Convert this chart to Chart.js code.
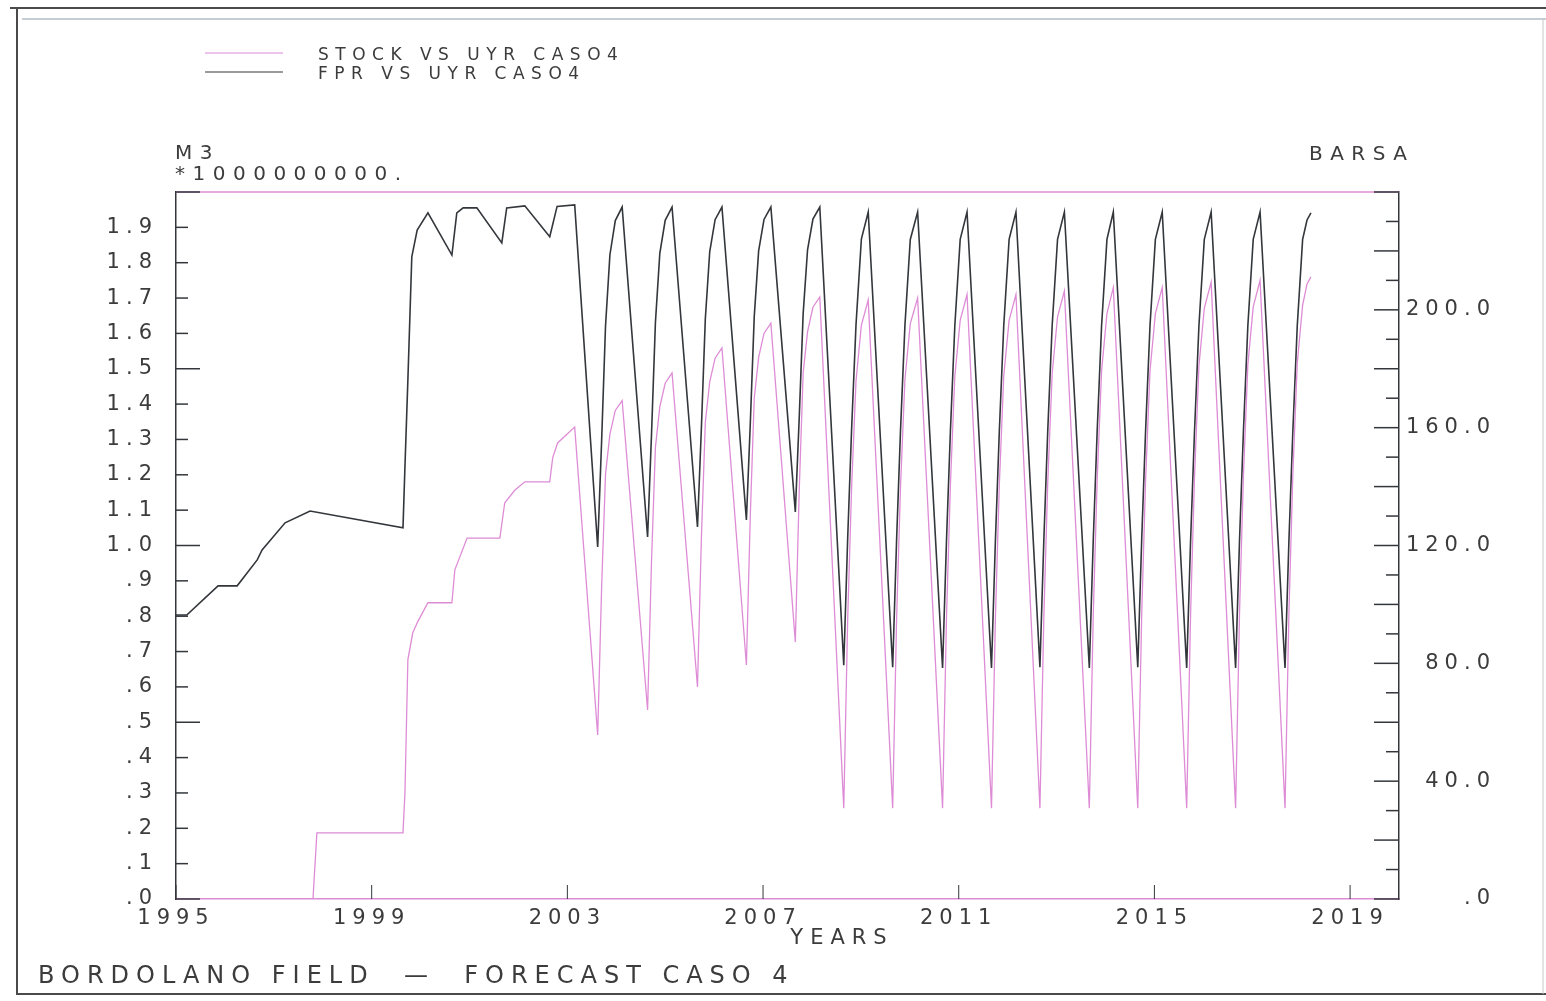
<!DOCTYPE html>
<html>
<head>
<meta charset="utf-8">
<title>Bordolano field - forecast caso 4</title>
<script src="https://cdn.jsdelivr.net/npm/chart.js@4.4.1/dist/chart.umd.min.js"></script>
<style>
  html, body { margin: 0; padding: 0; background: #fff; }
  canvas { display: block; }
</style>
</head>
<body>
<canvas id="forecastChart" width="1546" height="1001"></canvas>
<script>
// STOCK, M3 * 1e9 (left axis)
const stockYears = [
  1995.00, 1997.80, 1997.88, 1999.64, 1999.68, 1999.74, 1999.84, 1999.94, 2000.15, 2000.64,
  2000.70, 2000.95, 2001.62, 2001.72, 2001.93, 2002.13, 2002.64, 2002.70, 2002.80, 2003.15,
  2003.62, 2003.70, 2003.78, 2003.87, 2003.98, 2004.12,
  2004.64, 2004.72, 2004.80, 2004.89, 2005.00, 2005.14,
  2005.66, 2005.74, 2005.82, 2005.91, 2006.02, 2006.16,
  2006.66, 2006.74, 2006.82, 2006.91, 2007.02, 2007.16,
  2007.66, 2007.74, 2007.82, 2007.91, 2008.02, 2008.16,
  2008.65, 2008.73, 2008.81, 2008.90, 2009.01, 2009.15,
  2009.65, 2009.73, 2009.81, 2009.90, 2010.01, 2010.16,
  2010.67, 2010.75, 2010.83, 2010.92, 2011.03, 2011.17,
  2011.67, 2011.75, 2011.83, 2011.92, 2012.03, 2012.17,
  2012.66, 2012.74, 2012.82, 2012.91, 2013.02, 2013.16,
  2013.67, 2013.75, 2013.83, 2013.92, 2014.03, 2014.16,
  2014.66, 2014.74, 2014.82, 2014.91, 2015.02, 2015.16,
  2015.66, 2015.74, 2015.82, 2015.91, 2016.02, 2016.16,
  2016.66, 2016.74, 2016.82, 2016.91, 2017.02, 2017.16,
  2017.67, 2017.75, 2017.83, 2017.92, 2018.03, 2018.12, 2018.20
];
const stockValues = [
  0, 0, 0.187, 0.187, 0.30, 0.677, 0.753, 0.784, 0.838, 0.838,
  0.931, 1.021, 1.021, 1.121, 1.157, 1.18, 1.18, 1.248, 1.29, 1.335,
  0.464, 0.880, 1.202, 1.315, 1.382, 1.410,
  0.535, 0.954, 1.278, 1.393, 1.459, 1.488,
  0.600, 1.022, 1.348, 1.463, 1.530, 1.559,
  0.662, 1.087, 1.416, 1.532, 1.600, 1.629,
  0.727, 1.156, 1.488, 1.605, 1.674, 1.703,
  0.257, 0.789, 1.163, 1.465, 1.623, 1.695,
  0.257, 0.791, 1.166, 1.469, 1.628, 1.700,
  0.257, 0.795, 1.172, 1.478, 1.637, 1.710,
  0.257, 0.795, 1.172, 1.478, 1.637, 1.710,
  0.257, 0.798, 1.179, 1.486, 1.647, 1.720,
  0.257, 0.802, 1.185, 1.494, 1.656, 1.730,
  0.257, 0.802, 1.185, 1.494, 1.656, 1.730,
  0.257, 0.808, 1.194, 1.507, 1.671, 1.745,
  0.257, 0.809, 1.198, 1.511, 1.675, 1.750,
  0.257, 0.810, 1.200, 1.515, 1.680, 1.740, 1.760
];

// FPR, BARSA (right axis)
const fprYears = [
  1995.00, 1995.22, 1995.86, 1996.25, 1996.66, 1996.76, 1997.23, 1997.74, 1999.64, 1999.68,
  1999.74, 1999.82, 1999.93, 2000.15, 2000.64, 2000.74, 2000.87, 2001.15, 2001.66, 2001.76,
  2002.13, 2002.64, 2002.79, 2003.15,
  2003.62, 2003.70, 2003.78, 2003.87, 2003.98, 2004.12,
  2004.64, 2004.72, 2004.80, 2004.89, 2005.00, 2005.14,
  2005.66, 2005.74, 2005.82, 2005.91, 2006.02, 2006.16,
  2006.66, 2006.74, 2006.82, 2006.91, 2007.02, 2007.16,
  2007.66, 2007.74, 2007.82, 2007.91, 2008.02, 2008.16,
  2008.65, 2008.73, 2008.81, 2008.90, 2009.01, 2009.15,
  2009.65, 2009.73, 2009.81, 2009.90, 2010.01, 2010.16,
  2010.67, 2010.75, 2010.83, 2010.92, 2011.03, 2011.17,
  2011.67, 2011.75, 2011.83, 2011.92, 2012.03, 2012.17,
  2012.66, 2012.74, 2012.82, 2012.91, 2013.02, 2013.16,
  2013.67, 2013.75, 2013.83, 2013.92, 2014.03, 2014.16,
  2014.66, 2014.74, 2014.82, 2014.91, 2015.02, 2015.16,
  2015.66, 2015.74, 2015.82, 2015.91, 2016.02, 2016.16,
  2016.66, 2016.74, 2016.82, 2016.91, 2017.02, 2017.16,
  2017.67, 2017.75, 2017.83, 2017.92, 2018.03, 2018.12, 2018.20
];
const fprValues = [
  96.4, 96.4, 106.3, 106.3, 115.1, 118.5, 127.7, 131.7, 126.0, 146.7,
  176.2, 218.0, 227.1, 232.9, 218.6, 232.9, 234.6, 234.6, 222.7, 234.6,
  235.3, 224.8, 235.1, 235.6,
  119.5, 155.3, 194.5, 218.7, 230.3, 234.9,
  122.9, 157.6, 195.7, 219.2, 230.4, 234.9,
  126.3, 160.0, 196.9, 219.7, 230.6, 234.9,
  128.7, 161.6, 197.7, 220.0, 230.7, 234.9,
  131.4, 163.5, 198.7, 220.4, 230.8, 234.9,
  79.4, 122.4, 159.4, 194.8, 224.0, 233.2,
  78.7, 121.9, 159.0, 194.6, 223.9, 233.2,
  78.4, 121.7, 158.8, 194.5, 223.9, 233.2,
  78.4, 121.7, 158.8, 194.5, 223.9, 233.2,
  78.7, 121.9, 159.0, 194.6, 223.9, 233.2,
  78.4, 121.7, 158.8, 194.5, 223.9, 233.2,
  78.7, 121.9, 159.0, 194.6, 223.9, 233.2,
  78.4, 121.7, 158.8, 194.5, 223.9, 233.2,
  78.4, 121.7, 158.8, 194.5, 223.9, 233.2,
  78.4, 121.7, 158.8, 194.5, 223.9, 230.5, 232.9
];

const seriesNames = ['STOCK VS UYR CASO4', 'FPR VS UYR CASO4'];
const xTicks = [1995, 1999, 2003, 2007, 2011, 2015, 2019];
const leftTicks = [0, 0.1, 0.2, 0.3, 0.4, 0.5, 0.6, 0.7, 0.8, 0.9, 1.0, 1.1, 1.2, 1.3, 1.4, 1.5, 1.6, 1.7, 1.8, 1.9];
const leftTickLabels = ['.0', '.1', '.2', '.3', '.4', '.5', '.6', '.7', '.8', '.9', '1.0', '1.1', '1.2', '1.3', '1.4', '1.5', '1.6', '1.7', '1.8', '1.9'];
const rightTicks = [0, 40, 80, 120, 160, 200];
const rightTickLabels = ['.0', '40.0', '80.0', '120.0', '160.0', '200.0'];

const pink = '#de8cd6';
const ink = '#33373b';
const textInk = '#3c3c3c';
const fontFamily = '"DejaVu Sans", sans-serif';
const spacing = '6px';

function toPoints(xs, ys) {
  return xs.map((x, i) => ({ x: x, y: ys[i] }));
}

const plotterDecor = {
  id: 'plotterDecor',
  beforeLayout(chart) { chart.ctx.letterSpacing = spacing; },
  beforeDraw(chart) { chart.ctx.letterSpacing = spacing; },
  afterDraw(chart) {
    const ctx = chart.ctx;
    const area = chart.chartArea;
    const xs = chart.scales.x, yl = chart.scales.y, yr = chart.scales.y1;
    const seg = (x1, y1, x2, y2) => { ctx.beginPath(); ctx.moveTo(x1, y1); ctx.lineTo(x2, y2); ctx.stroke(); };
    const write = (txt, x, y, size, gap, align) => {
      ctx.font = size + 'px ' + fontFamily;
      ctx.letterSpacing = gap + 'px';
      ctx.textAlign = align;
      ctx.textBaseline = 'middle';
      // trailing spacing is part of the measured run, compensate it
      const shift = align === 'right' ? gap : (align === 'center' ? gap / 2 : 0);
      ctx.fillText(txt, x + shift, y);
    };
    ctx.save();

    // top of the plot box in pink
    ctx.strokeStyle = pink;
    ctx.lineWidth = 1.5;
    seg(area.left, area.top, area.right, area.top);

    // tick marks drawn inward
    ctx.strokeStyle = ink;
    ctx.lineWidth = 1.5;
    for (let i = 0; i <= 20; i++) {
      const py = yl.getPixelForValue(i / 10);
      seg(area.left, py, area.left + (i % 5 === 0 ? 24 : 12), py);
    }
    for (let i = 0; i <= 24; i++) {
      const py = yr.getPixelForValue(i * 10);
      seg(area.right - (i % 2 === 0 ? 25 : 13), py, area.right, py);
    }
    ctx.lineWidth = 1;
    xTicks.forEach(v => {
      const px = xs.getPixelForValue(v);
      seg(px, area.bottom, px, area.bottom - 14);
    });

    // legend
    ctx.fillStyle = textInk;
    chart.data.datasets.forEach((ds, i) => {
      const ly = 53 + i * 19;
      ctx.strokeStyle = ds.borderColor;
      ctx.lineWidth = 1.2;
      seg(205, ly, 283, ly);
      write(ds.label, 318, ly + 3, 17, 6.5, 'left');
    });

    // axis units and captions
    write('M3', area.left - 1, area.top - 38, 20, 7.5, 'left');
    write('*1000000000.', area.left - 1, area.top - 17, 20, 7.5, 'left');
    write('BARSA', area.right + 8, area.top - 37, 20, 7.5, 'right');
    write('YEARS', area.left + (area.right - area.left) / 2 + 51, area.bottom + 40, 21, 7, 'center');
    write('BORDOLANO FIELD  \u2014  FORECAST CASO 4', 38, 977, 24, 7, 'left');

    // outer frame
    ctx.strokeStyle = '#4a4a4a';
    ctx.lineWidth = 2;
    seg(10, 8, 1546, 8);
    seg(17, 8, 17, 995);
    seg(17, 994, 1546, 994);
    ctx.strokeStyle = '#8d9aa8';
    ctx.lineWidth = 1;
    seg(22, 19, 1546, 19);
    ctx.strokeStyle = '#c8c8c8';
    seg(1543, 19, 1543, 994);
    ctx.restore();
  }
};

const tickFont = { family: fontFamily, size: 21 };

new Chart(document.getElementById('forecastChart').getContext('2d'), {
  type: 'line',
  data: {
    datasets: [
      {
        label: seriesNames[0],
        data: toPoints(stockYears, stockValues),
        yAxisID: 'y',
        borderColor: pink,
        borderWidth: 1.3,
        pointRadius: 0,
        tension: 0
      },
      {
        label: seriesNames[1],
        data: toPoints(fprYears, fprValues),
        yAxisID: 'y1',
        borderColor: ink,
        borderWidth: 1.6,
        pointRadius: 0,
        tension: 0
      }
    ]
  },
  options: {
    responsive: false,
    animation: false,
    devicePixelRatio: 1,
    parsing: false,
    layout: { padding: { left: 0, right: 50, top: 192, bottom: 62 } },
    plugins: {
      legend: { display: false },
      tooltip: { enabled: false },
      title: { display: false }
    },
    scales: {
      x: {
        type: 'linear',
        position: 'bottom',
        min: 1995,
        max: 2020,
        afterBuildTicks: s => { s.ticks = xTicks.map(v => ({ value: v })); },
        afterFit: s => { s.height = 40; },
        grid: { display: false, drawTicks: false },
        border: { display: true, color: pink, width: 1.5 },
        ticks: {
          padding: 7,
          color: textInk,
          font: tickFont,
          autoSkip: false,
          maxRotation: 0,
          callback: v => String(v)
        }
      },
      y: {
        type: 'linear',
        position: 'left',
        min: 0,
        max: 2,
        afterBuildTicks: s => { s.ticks = leftTicks.map(v => ({ value: v })); },
        afterFit: s => { s.width = 176; },
        grid: { display: false, drawTicks: false },
        border: { display: true, color: ink, width: 1.5 },
        ticks: {
          padding: 18,
          color: textInk,
          font: tickFont,
          autoSkip: false,
          callback: (v, i) => leftTickLabels[i]
        }
      },
      y1: {
        type: 'linear',
        position: 'right',
        min: 0,
        max: 240,
        afterBuildTicks: s => { s.ticks = rightTicks.map(v => ({ value: v })); },
        afterFit: s => { s.width = 97; },
        grid: { display: false, drawTicks: false },
        border: { display: true, color: ink, width: 1.5 },
        ticks: {
          crossAlign: 'far',
          color: textInk,
          font: tickFont,
          autoSkip: false,
          callback: (v, i) => rightTickLabels[i]
        }
      }
    }
  },
  plugins: [plotterDecor]
});
</script>
</body>
</html>
